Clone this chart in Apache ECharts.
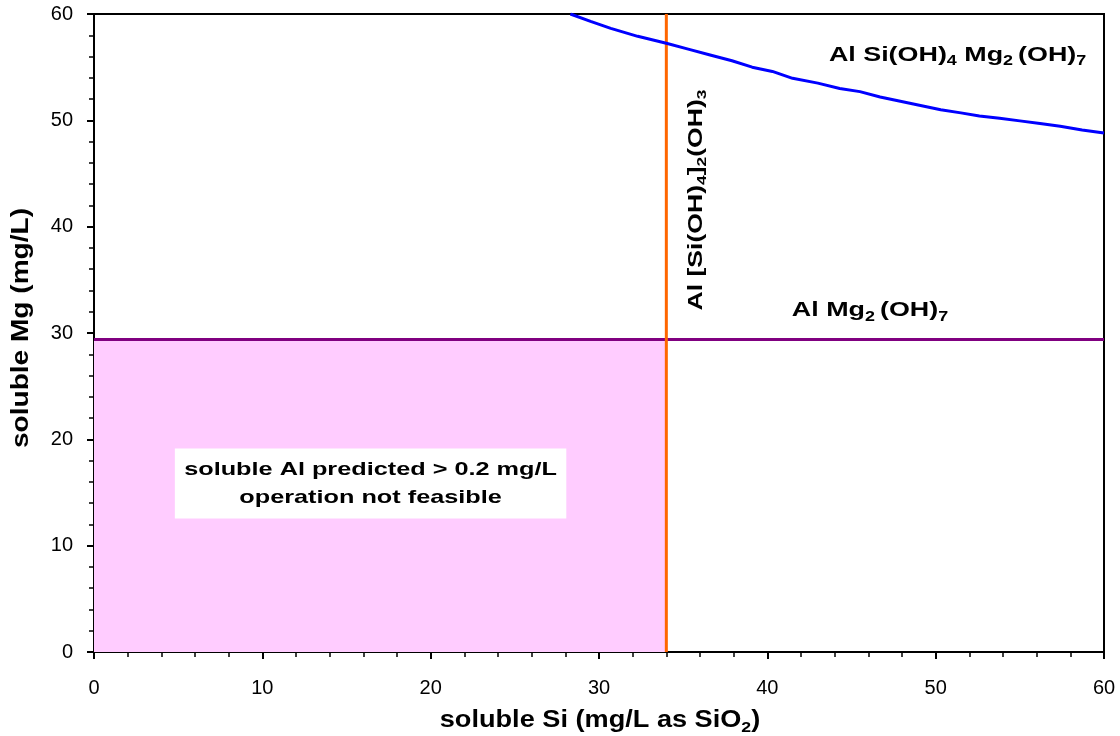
<!DOCTYPE html>
<html>
<head>
<meta charset="utf-8">
<script src="https://cdn.jsdelivr.net/npm/echarts/dist/echarts.min.js"></script>
<style>
  html, body { margin: 0; padding: 0; background: #ffffff; }
  #chart { width: 1120px; height: 736px; }
</style>
</head>
<body>
<div id="chart"></div>
<script>
// Solubility boundaries of Al phases versus dissolved Si and Mg
const curveSi = [28.3, 29.5, 30.7, 32.3, 34.0, 35.3, 36.6, 37.9, 39.1, 40.3, 41.5, 43.0, 44.3,
                 45.5, 46.7, 47.9, 49.1, 50.3, 51.5, 52.6, 53.8, 55.0, 56.2, 57.4, 58.7, 60.0];
const curveMg = [60.0, 59.3, 58.65, 57.9, 57.25, 56.7, 56.15, 55.6, 55.0, 54.6, 53.95, 53.5, 53.0,
                 52.7, 52.2, 51.8, 51.4, 51.0, 50.7, 50.4, 50.2, 49.95, 49.7, 49.45, 49.1, 48.8];
const siLimit = 34;    // Al[Si(OH)4]2(OH)3 boundary
const mgLimit = 29.4;  // AlMg2(OH)7 boundary
const axisMin = 0;
const axisMax = 60;
const axisStep = 10;

const FONT = '"Liberation Sans", Arial, Helvetica, sans-serif';

const chart = echarts.init(document.getElementById('chart'), null, { renderer: 'canvas' });

function axisBase(labelMargin) {
  return {
    type: 'value',
    min: axisMin,
    max: axisMax,
    interval: axisStep,
    axisLine: { show: true, onZero: false, lineStyle: { color: '#000', width: 2 } },
    axisTick: { show: true, inside: false, length: 7, lineStyle: { color: '#000', width: 2 } },
    minorTick: { show: true, splitNumber: 5, length: 5, lineStyle: { color: '#000', width: 1.5 } },
    splitLine: { show: false },
    minorSplitLine: { show: false },
    axisLabel: {
      color: '#000', fontSize: 20, fontFamily: FONT, margin: labelMargin,
      showMinLabel: true, showMaxLabel: true
    }
  };
}

const option = {
  animation: false,
  backgroundColor: '#ffffff',
  grid: {
    left: 94, top: 14, right: 16, bottom: 84,
    show: true, borderColor: '#000', borderWidth: 2, backgroundColor: 'transparent'
  },
  xAxis: axisBase(26),
  yAxis: axisBase(21),
  series: [
    {
      // infeasible region: low Si and low Mg
      type: 'line',
      data: [],
      z: 1,
      silent: true,
      markArea: {
        silent: true,
        itemStyle: { color: '#FFCCFF', opacity: 1 },
        data: [[{ coord: [axisMin, axisMin] }, { coord: [siLimit, mgLimit] }]]
      }
    },
    {
      name: 'Al Mg2(OH)7',
      type: 'line',
      z: 3,
      showSymbol: false,
      silent: true,
      lineStyle: { color: '#800080', width: 3 },
      data: [[axisMin, mgLimit], [axisMax, mgLimit]]
    },
    {
      name: 'Al [Si(OH)4]2(OH)3',
      type: 'line',
      z: 4,
      showSymbol: false,
      silent: true,
      lineStyle: { color: '#FF6600', width: 3 },
      data: [[siLimit, axisMin], [siLimit, axisMax]]
    },
    {
      name: 'Al Si(OH)4 Mg2(OH)7',
      type: 'line',
      z: 5,
      showSymbol: false,
      silent: true,
      clip: true,
      lineStyle: { color: '#0000FF', width: 3 },
      data: curveSi.map((s, i) => [s, curveMg[i]])
    }
  ]
};

chart.setOption(option);

// text annotations
function richStyles(main, sub, lh) {
  return {
    t: { fontSize: main, fontWeight: 'bold', fontFamily: FONT, fill: '#000', color: '#000', lineHeight: lh },
    s: { fontSize: sub, fontWeight: 'bold', fontFamily: FONT, fill: '#000', color: '#000', lineHeight: sub, verticalAlign: 'bottom' }
  };
}

function label(at, text, main, sub, stretch, rotation) {
  const p = chart.convertToPixel({ gridIndex: 0 }, at);
  return {
    type: 'text',
    x: p[0], y: p[1],
    rotation: rotation || 0,
    scaleX: stretch, scaleY: 1,
    z: 10,
    silent: true,
    style: {
      text: text,
      align: 'center',
      verticalAlign: 'middle',
      rich: richStyles(main, sub, main + 5)
    }
  };
}

const gridLeft = 94, gridTop = 14, gridW = 1010, gridH = 638;
const boxCenter = chart.convertToPixel({ gridIndex: 0 }, [16.43, 15.85]);

chart.setOption({
  graphic: [
    label([51.3, 56.1], '{t|Al Si(OH)}{s|4}{t| Mg}{s|2 }{t|(OH)}{s|7}', 21, 14, 1.28, 0),
    label([46.1, 32.1], '{t|Al Mg}{s|2 }{t|(OH)}{s|7}', 21, 14, 1.28, 0),
    label([35.8, 42.5], '{t|Al [Si(OH)}{s|4}{t|]}{s|2}{t|(OH)}{s|3}', 20, 13, 1.33, Math.PI / 2),
    {
      type: 'text',
      x: boxCenter[0], y: boxCenter[1],
      scaleX: 1.33, scaleY: 1,
      z: 10,
      silent: true,
      style: {
        text: 'soluble Al predicted > 0.2 mg/L\noperation not feasible',
        font: 'bold 19px ' + FONT,
        fill: '#000',
        align: 'center',
        verticalAlign: 'middle',
        lineHeight: 28,
        backgroundColor: '#ffffff',
        padding: [7, 7]
      }
    },
    {
      // x axis title
      type: 'text',
      x: gridLeft + gridW / 2 + 1, y: gridTop + gridH + 69,
      scaleX: 1.18, scaleY: 1,
      silent: true,
      style: {
        text: '{t|soluble Si (mg/L as SiO}{s|2}{t|)}',
        align: 'center', verticalAlign: 'middle',
        rich: richStyles(23, 15, 28)
      }
    },
    {
      // y axis title
      type: 'text',
      x: 22, y: 328,
      rotation: Math.PI / 2,
      scaleX: 1.22, scaleY: 1,
      silent: true,
      style: {
        text: 'soluble Mg (mg/L)',
        font: 'bold 23px ' + FONT,
        fill: '#000',
        align: 'center', verticalAlign: 'middle'
      }
    }
  ]
});
</script>
</body>
</html>
